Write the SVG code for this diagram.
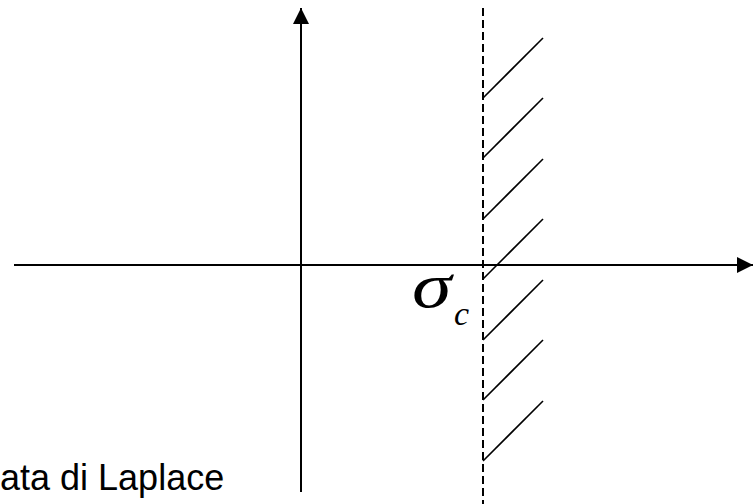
<svg xmlns="http://www.w3.org/2000/svg" width="755" height="504" viewBox="0 0 755 504">
<style>
.ax{stroke:#000;stroke-width:2;fill:none}
.h{stroke:#000;stroke-width:1.6;fill:none}
.d{stroke:#000;stroke-width:2;stroke-dasharray:8,4;fill:none}
</style>
<defs>
<marker id="ah" viewBox="0 0 10 10" refX="10" refY="5" markerWidth="8" markerHeight="8" markerUnits="strokeWidth" orient="auto">
<path d="M0,0 L10,5 L0,10 Z" fill="#000"/>
</marker>
</defs>
<rect width="755" height="504" fill="#fff"/>
<g id="axes">
<line class="ax" x1="14" y1="265" x2="753" y2="265" marker-end="url(#ah)"/>
<line class="ax" x1="301" y1="492" x2="301" y2="8" marker-end="url(#ah)"/>
</g>
<g id="boundary">
<line class="d" x1="483" y1="8" x2="483" y2="504"/>
</g>
<g id="hatch">
<line class="h" x1="483" y1="98" x2="543" y2="38"/>
<line class="h" x1="483" y1="158" x2="543" y2="98"/>
<line class="h" x1="483" y1="219" x2="543" y2="159"/>
<line class="h" x1="483" y1="279" x2="543" y2="219"/>
<line class="h" x1="483" y1="340" x2="543" y2="280"/>
<line class="h" x1="483" y1="400" x2="543" y2="340"/>
<line class="h" x1="483" y1="461" x2="543" y2="401"/>
</g>
<g id="labels">
<text transform="translate(412,307) scale(1.25,1)" font-family="'Liberation Serif',serif" font-style="italic" font-size="64">σ</text>
<text x="454" y="325" font-family="'Liberation Serif',serif" font-style="italic" font-size="34">c</text>
<text x="0" y="490" font-family="'Liberation Sans',Arial,sans-serif" font-size="36">ata di Laplace</text>
</g>
</svg>
